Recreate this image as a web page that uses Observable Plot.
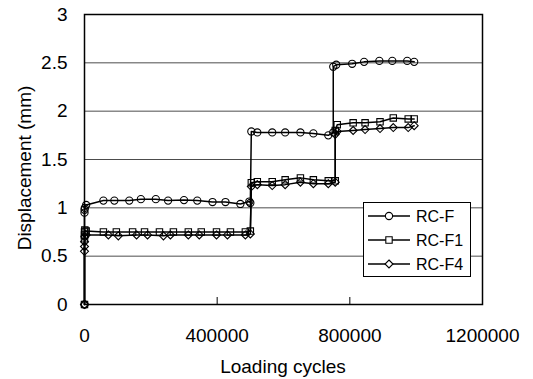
<!DOCTYPE html>
<html><head><meta charset="utf-8">
<script src="https://cdn.jsdelivr.net/npm/d3@7"></script>
<script src="https://cdn.jsdelivr.net/npm/@observablehq/plot@0.6"></script>
<style>html,body{margin:0;padding:0;background:#fff} svg{display:block}</style>
</head><body><div id="chart"></div>
<script>
const seriesNames = ["RC-F", "RC-F1", "RC-F4"];

const cyclesF = [0, 1, 100, 1000, 5000, 57000, 90000, 135000, 170000, 215000, 252000, 300000, 340000, 386000, 425000, 470000, 497000, 500000,
  503000, 521000, 566000, 605000, 651000, 690000, 735000, 750000,
  750000, 759000, 807000, 843000, 889000, 928000, 973000, 994000];
const dispF = [0, 0.95, 0.98, 1.0, 1.03, 1.075, 1.075, 1.075, 1.09, 1.09, 1.075, 1.08, 1.075, 1.06, 1.06, 1.04, 1.065, 1.05,
  1.79, 1.78, 1.78, 1.78, 1.78, 1.77, 1.75, 1.78,
  2.46, 2.48, 2.49, 2.51, 2.52, 2.52, 2.52, 2.51];

const cyclesF1 = [0, 1, 10, 100, 1000, 5000, 57000, 96000, 145000, 181000, 226000, 268000, 313000, 352000, 398000, 440000, 485000, 500000,
  503000, 521000, 566000, 605000, 651000, 690000, 735000, 756000,
  756000, 762000, 810000, 846000, 891000, 931000, 976000, 994000];
const dispF1 = [0, 0.68, 0.72, 0.75, 0.77, 0.76, 0.75, 0.75, 0.75, 0.75, 0.75, 0.75, 0.75, 0.75, 0.75, 0.75, 0.75, 0.76,
  1.26, 1.27, 1.27, 1.29, 1.31, 1.29, 1.28, 1.28,
  1.80, 1.86, 1.88, 1.88, 1.89, 1.93, 1.92, 1.92];

const cyclesF4 = [0, 1, 10, 100, 1000, 5000, 72000, 102000, 157000, 190000, 238000, 259000, 313000, 346000, 398000, 431000, 485000, 500000,
  503000, 521000, 566000, 605000, 651000, 690000, 735000, 756000,
  756000, 762000, 810000, 846000, 891000, 931000, 976000, 994000];
const dispF4 = [0, 0.55, 0.60, 0.65, 0.70, 0.72, 0.72, 0.71, 0.72, 0.72, 0.71, 0.72, 0.72, 0.72, 0.72, 0.72, 0.72, 0.73,
  1.22, 1.24, 1.23, 1.24, 1.265, 1.25, 1.25, 1.265,
  1.76, 1.79, 1.80, 1.81, 1.82, 1.83, 1.83, 1.85];

const xTicks = [0, 400000, 800000, 1200000];
const yTicks = [0, 0.5, 1, 1.5, 2, 2.5, 3];
const xLabel = "Loading cycles";
const yLabel = "Displacement (mm)";

const data = [];
[[cyclesF, dispF], [cyclesF1, dispF1], [cyclesF4, dispF4]].forEach(([xs, ys], i) =>
  xs.forEach((c, j) => data.push({series: seriesNames[i], cycles: c, disp: ys[j]})));

const font = '"Liberation Sans", Arial, sans-serif';
const symbolRange = ["circle", "square", "diamond2"];
const R = 3.6;

const chart = Plot.plot({
  width: 533, height: 379,
  marginLeft: 84, marginRight: 51, marginTop: 14, marginBottom: 75,
  style: {fontFamily: font, fontSize: "19px", background: "#fff", color: "#000", overflow: "visible"},
  x: {domain: [0, 1200000], ticks: xTicks},
  y: {domain: [0, 3], ticks: yTicks},
  symbol: {domain: seriesNames, range: symbolRange},
  marks: [
    Plot.gridY(yTicks.slice(1, -1), {stroke: "#000", strokeOpacity: 0.7, strokeWidth: 1}),
    Plot.axisX(xTicks, {tickSize: 0, tickPadding: 24, tickFormat: d => String(d), label: null, fontSize: 19}),
    Plot.axisY(yTicks, {tickSize: 0, tickPadding: 17, tickFormat: d => String(d), label: null, fontSize: 19}),
    Plot.tickX(xTicks.slice(1, -1), {x: d => d, stroke: "#000", strokeWidth: 1, insetTop: 283}),
    Plot.line(data, {x: "cycles", y: "disp", z: "series", stroke: "#000", strokeWidth: 1.5}),
    Plot.dot(data, {x: "cycles", y: "disp", symbol: "series", r: R, stroke: "#000", strokeWidth: 1.1, fill: "none"}),
    Plot.frame({stroke: "#000", strokeWidth: 1.5})
  ]
});

const svg = d3.select(chart);
// axis titles
svg.append("text").attr("x", 283).attr("y", 373).attr("text-anchor", "middle")
  .attr("font-family", font).attr("font-size", 19).attr("fill", "#000").text(xLabel);
svg.append("text").attr("transform", "translate(31,168) rotate(-90)").attr("text-anchor", "middle")
  .attr("font-family", font).attr("font-size", 19).attr("fill", "#000").text(yLabel);

// legend
const lg = svg.append("g");
lg.append("rect").attr("x", 363.5).attr("y", 202.5).attr("width", 107).attr("height", 74)
  .attr("fill", "#fff").attr("stroke", "#000").attr("stroke-width", 1);
const d3Symbols = [d3.symbolCircle, d3.symbolSquare, d3.symbolDiamond2];
seriesNames.forEach((name, i) => {
  const yy = 216 + i * 24;
  lg.append("line").attr("x1", 368).attr("x2", 410).attr("y1", yy).attr("y2", yy)
    .attr("stroke", "#000").attr("stroke-width", 1.5);
  lg.append("path").attr("d", d3.symbol(d3Symbols[i], R * R * Math.PI)())
    .attr("transform", `translate(389,${yy})`).attr("fill", "#fff").attr("stroke", "#000").attr("stroke-width", 1.1);
  lg.append("text").attr("x", 416).attr("y", yy).attr("dy", "0.35em").attr("text-anchor", "start")
    .attr("font-family", font).attr("font-size", 16).attr("fill", "#000").text(name);
});

document.getElementById("chart").appendChild(chart);
</script>
</body></html>
